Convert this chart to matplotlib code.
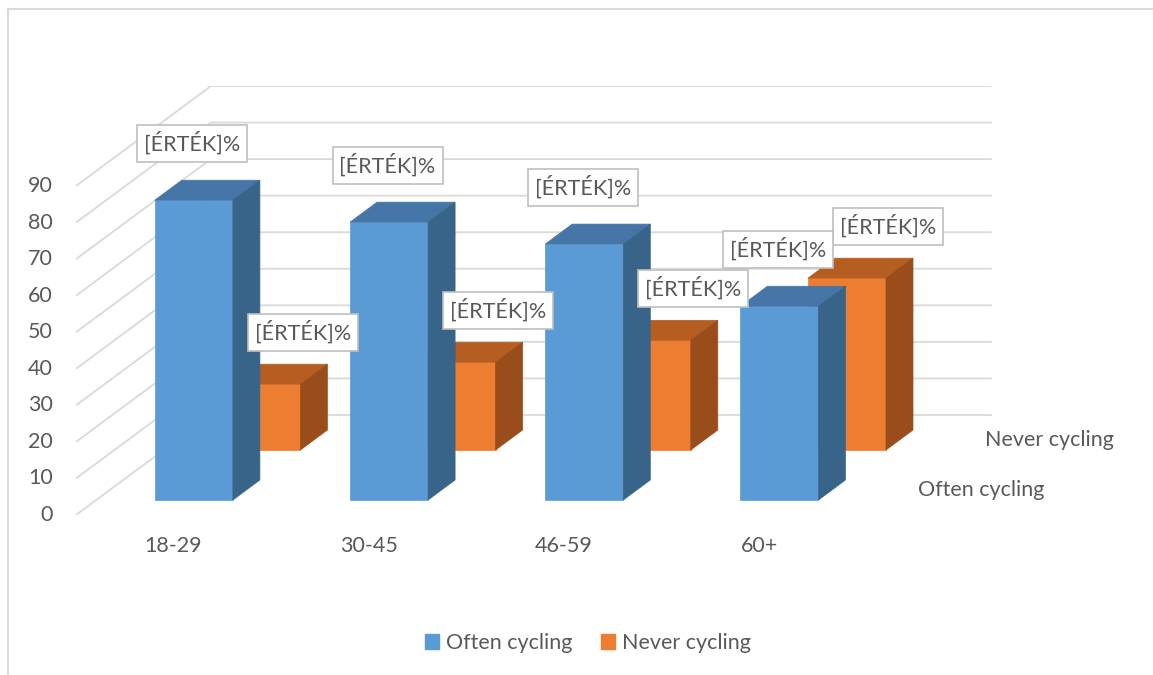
import matplotlib
matplotlib.use('Agg')
import matplotlib.pyplot as plt
from matplotlib.patches import Polygon, Patch
from matplotlib.lines import Line2D

# ---- data ----
categories = ['18-29', '30-45', '46-59', '60+']
often_cycling = [82, 76, 70, 53]
never_cycling = [18, 24, 30, 47]
series_names = ['Often cycling', 'Never cycling']
yticks = [0, 10, 20, 30, 40, 50, 60, 70, 80, 90]
label_text = '[ÉRTÉK]%'

# ---- style ----
plt.rcParams['font.family'] = ['Lato', 'DejaVu Sans']
TXT = '#595959'
GRID = '#D9D9D9'
FS = 15.5
colors = {
    'Often cycling': ('#5B9BD5', '#4676A8', '#386489'),
    'Never cycling': ('#ED7D31', '#B65D22', '#984D1B'),
}

W, H = 1153, 675
fig = plt.figure(figsize=(W / 100, H / 100), dpi=100)

DX = 0.6916   # depth shift (category units) for full depth
DY = 27.35    # depth shift (value units) for full depth
BW = 0.4      # bar width
YMAX = yticks[-1]
n = len(categories)

ax = fig.add_axes([76 / W, (H - 515) / H, (991.8 - 76) / W, (YMAX + DY) * 3.656 / H])
ax.set_xlim(-0.5, n - 0.5 + DX)
ax.set_ylim(0, YMAX + DY)
ax.axis('off')


def P(x, v, d):
    return (x + d * DX, v + d * DY)


# gridlines (left wall + back wall)
for t in yticks:
    pts = [P(-0.5, t, 0), P(-0.5, t, 1), P(n - 0.5, t, 1)]
    ax.plot([p[0] for p in pts], [p[1] for p in pts], color=GRID, lw=1.3,
            zorder=1, solid_capstyle='butt')
    ax.annotate(str(t), xy=(-0.5, t), xytext=(-23, 0), textcoords='offset pixels',
                ha='right', va='center', fontsize=FS, color=TXT, annotation_clip=False)

# bars: back series first
series = [('Never cycling', never_cycling, 0.65), ('Often cycling', often_cycling, 0.15)]
for name, vals, d0 in series:
    d1 = d0 + 0.2
    cf, ct, cs = colors[name]
    fx = [i + d0 * DX for i in range(n)]
    ax.bar(fx, vals, width=BW, bottom=d0 * DY, color=cf, edgecolor=cf, lw=0.5, zorder=3)
    for i, v in enumerate(vals):
        x0, x1 = i - BW / 2, i + BW / 2
        top = [P(x0, v, d0), P(x1, v, d0), P(x1, v, d1), P(x0, v, d1)]
        side = [P(x1, 0, d0), P(x1, 0, d1), P(x1, v, d1), P(x1, v, d0)]
        ax.add_patch(Polygon(top, closed=True, fc=ct, ec=ct, lw=0.5, zorder=3))
        ax.add_patch(Polygon(side, closed=True, fc=cs, ec=cs, lw=0.5, zorder=3))

# data labels
label_offsets = {'Often cycling': (-15, 47), 'Never cycling': (28, 42)}
depth_center = {'Often cycling': 0.25, 'Never cycling': 0.75}
for name, vals, d0 in series:
    dc = depth_center[name]
    ox, oy = label_offsets[name]
    for i, v in enumerate(vals):
        ax.annotate(label_text, xy=P(i, v, dc), xytext=(ox, oy), textcoords='offset pixels',
                    ha='center', va='center', fontsize=FS, color=TXT, zorder=5,
                    annotation_clip=False,
                    bbox=dict(boxstyle='square,pad=0.32', fc='white', ec='#BFBFBF', lw=1.2))

# category labels
for i, c in enumerate(categories):
    ax.annotate(c, xy=(i, 0), xytext=(0, -31), textcoords='offset pixels',
                ha='center', va='center', fontsize=FS, color=TXT, annotation_clip=False)

# series (depth axis) labels
for name in series_names:
    dc = depth_center[name]
    ax.annotate(name, xy=P(n - 0.5, 0, dc), xytext=(27, 0), textcoords='offset pixels',
                ha='left', va='center', fontsize=FS, color=TXT, annotation_clip=False)

# legend
handles = [Patch(color=colors[s][0]) for s in series_names]
fig.legend(handles, series_names, loc='center', bbox_to_anchor=(588 / W, (H - 643) / H),
           ncol=2, frameon=False, handlelength=0.65, handleheight=0.65, handletextpad=0.3,
           columnspacing=1.35, fontsize=FS, labelcolor=TXT)

# outer frame (top and left edges visible)
fig.add_artist(Line2D([8 / W, 8 / W], [0, 1 - 9 / H], color=GRID, lw=1.5))
fig.add_artist(Line2D([8 / W, 1], [1 - 9 / H, 1 - 9 / H], color=GRID, lw=1.5))

fig.savefig('out.png', dpi=100)
